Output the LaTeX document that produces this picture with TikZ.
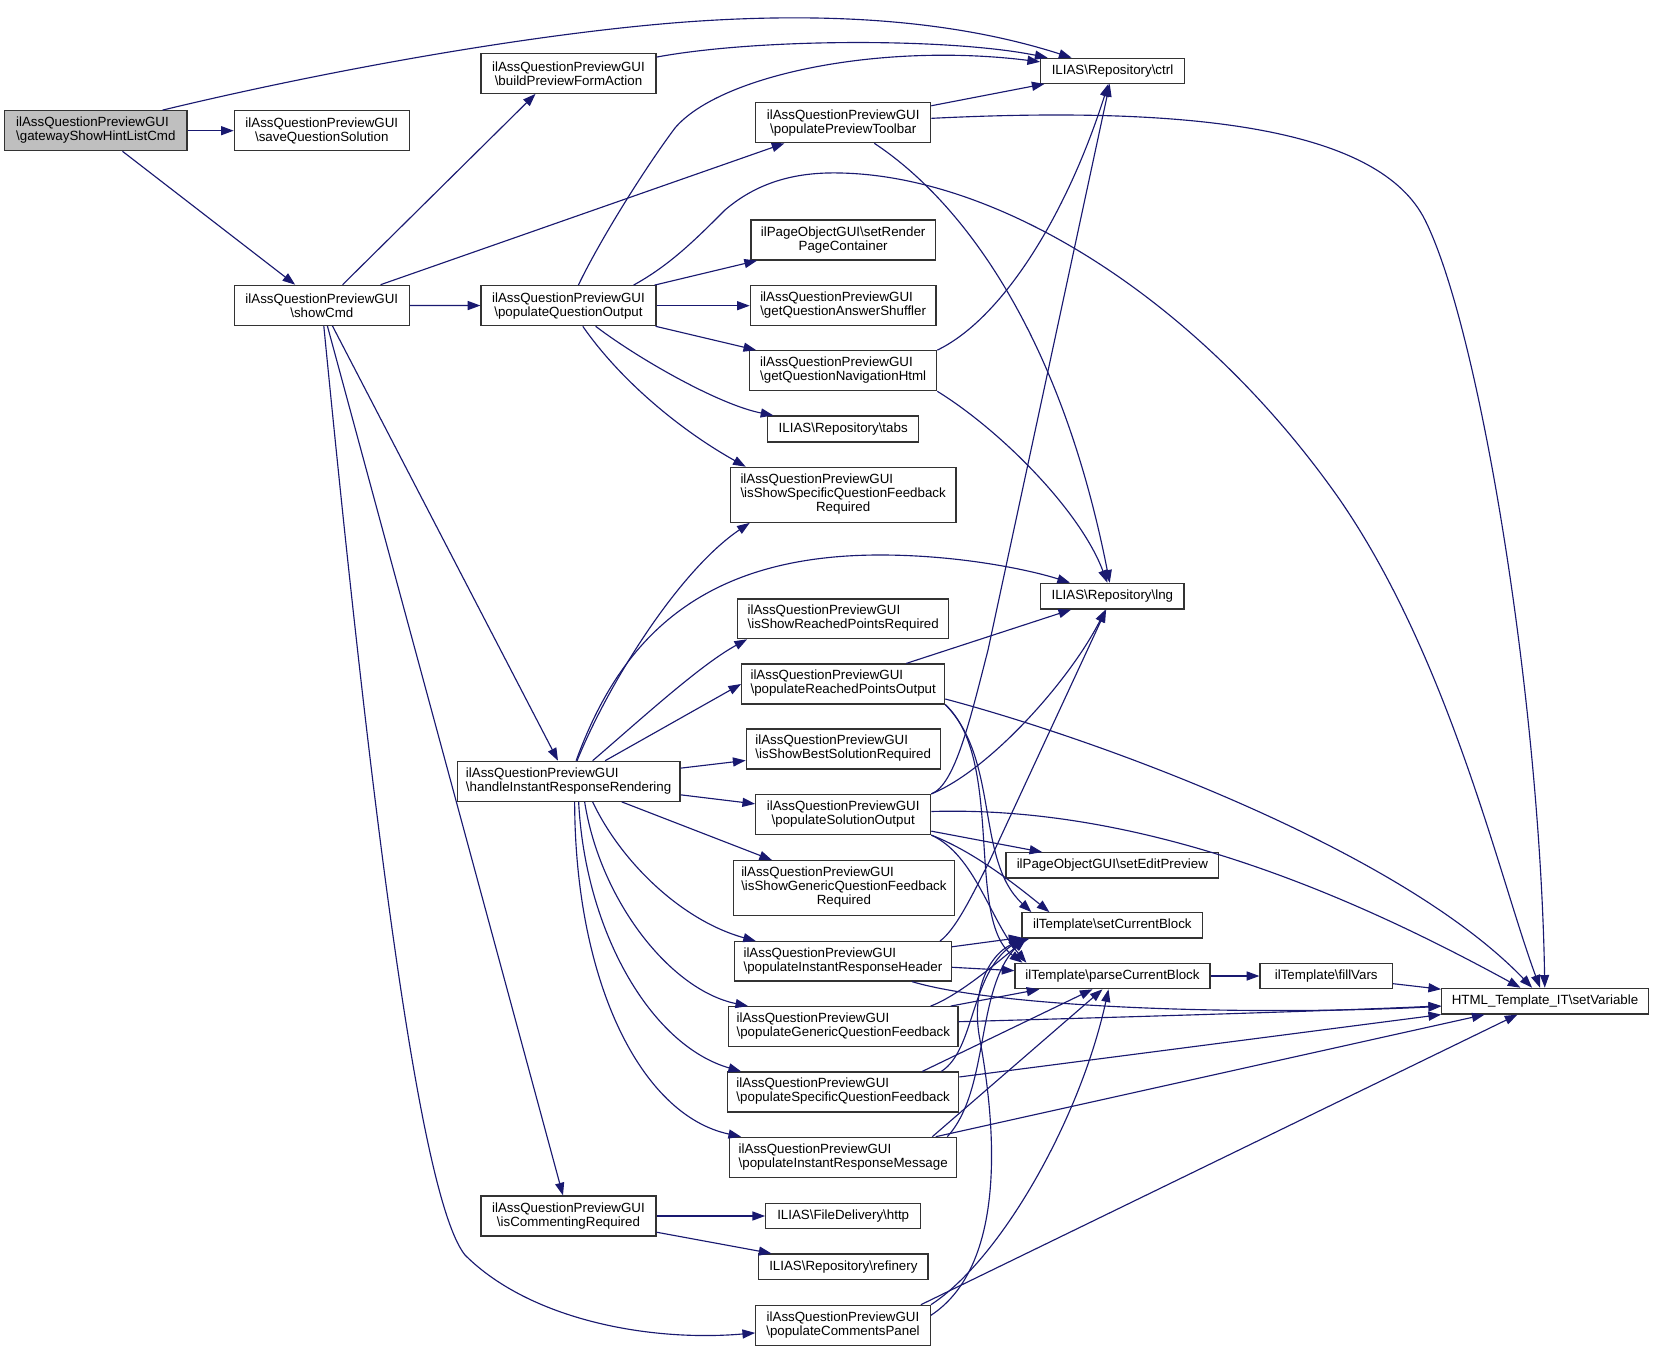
\documentclass[tikz,border=0pt]{standalone}
\usepackage{fontspec}
\setmainfont{Liberation Sans}
\usetikzlibrary{arrows.meta,calc}
\definecolor{edgec}{HTML}{191970}
\definecolor{nodeb}{HTML}{333333}
\definecolor{gwfill}{HTML}{BFBFBF}
\newcommand\BS{\textbackslash}
\newcommand\LL[1]{\begin{tabular}{@{}l@{}}#1\end{tabular}}
\newcommand\bx[7][]{\node[nb,#1,minimum width={(#5-#3)*0.75pt},minimum height={(#6-#4)*0.75pt}] (#2) at ({(#3+#5)/2},{(#4+#6)/2}) {#7};}
\tikzset{
  nb/.style={draw=nodeb, line width=0.9pt, fill=white, inner sep=0pt, align=center,
    font=\fontsize{10pt}{10.5pt}\selectfont},
  e/.style={draw=edgec, line width=0.85pt, -{Triangle[length=9.5pt,width=6.8pt]}}
}
\begin{document}
\begin{tikzpicture}[x=0.75pt,y=-0.75pt]
\fill[white] (0,0) rectangle (1653,1352);
\useasboundingbox (0,0) rectangle (1653,1352);
% nodes
\bx[fill=gwfill]{gw}{4.7}{110.7}{187}{150.7}{\LL{ilAssQuestionPreviewGUI\\\BS gatewayShowHintListCmd}}
\bx{sqs}{234.3}{110.7}{409.3}{150.7}{ilAssQuestionPreviewGUI\\\BS saveQuestionSolution}
\bx{show}{234.3}{285.3}{409.3}{325.3}{ilAssQuestionPreviewGUI\\\BS showCmd}
\bx{bpfa}{481}{53.3}{656}{93.3}{ilAssQuestionPreviewGUI\\\BS buildPreviewFormAction}
\bx{pqo}{481}{285.7}{656}{325.7}{ilAssQuestionPreviewGUI\\\BS populateQuestionOutput}
\bx{ctrl}{1040.7}{58.3}{1184.3}{83.3}{ILIAS\BS Repository\BS ctrl}
\bx{ppt}{755.7}{102.7}{930.7}{142.7}{ilAssQuestionPreviewGUI\\\BS populatePreviewToolbar}
\bx{srpc}{751}{220}{935.3}{260}{ilPageObjectGUI\BS setRender\\PageContainer}
\bx{gqas}{750.3}{285.7}{936}{325.7}{\LL{ilAssQuestionPreviewGUI\\\BS getQuestionAnswerShuffler}}
\bx{gqnh}{749.7}{350.7}{936.7}{390.7}{\LL{ilAssQuestionPreviewGUI\\\BS getQuestionNavigationHtml}}
\bx{tabs}{767.7}{416}{918.7}{442}{ILIAS\BS Repository\BS tabs}
\bx{isqfr}{730.3}{467.3}{956}{522.3}{\LL{ilAssQuestionPreviewGUI\\\BS isShowSpecificQuestionFeedback\\\multicolumn{1}{@{}c@{}}{Required}}}
\bx{lng}{1040.7}{583.3}{1184}{609}{ILIAS\BS Repository\BS lng}
\bx{isrpr}{737.7}{599}{948.7}{638.7}{\LL{ilAssQuestionPreviewGUI\\\BS isShowReachedPointsRequired}}
\bx{prpo}{741.7}{664}{944.7}{704}{\LL{ilAssQuestionPreviewGUI\\\BS populateReachedPointsOutput}}
\bx{isbsr}{746.2}{729}{940.2}{769}{\LL{ilAssQuestionPreviewGUI\\\BS isShowBestSolutionRequired}}
\bx{hirr}{457.3}{761.3}{680}{801.3}{\LL{ilAssQuestionPreviewGUI\\\BS handleInstantResponseRendering}}
\bx{pso}{755.7}{794.5}{930.7}{834.5}{ilAssQuestionPreviewGUI\\\BS populateSolutionOutput}
\bx{sep}{1006}{852.7}{1218.7}{878}{ilPageObjectGUI\BS setEditPreview}
\bx{igqfr}{733.5}{860.7}{954.3}{915.3}{\LL{ilAssQuestionPreviewGUI\\\BS isShowGenericQuestionFeedback\\\multicolumn{1}{@{}c@{}}{Required}}}
\bx{scb}{1022}{912.7}{1202.7}{938}{ilTemplate\BS setCurrentBlock}
\bx{pirh}{734.5}{941.7}{951.3}{981}{\LL{ilAssQuestionPreviewGUI\\\BS populateInstantResponseHeader}}
\bx{pcb}{1015}{963.3}{1210}{988.7}{ilTemplate\BS parseCurrentBlock}
\bx{fv}{1260}{963.5}{1392.5}{988.5}{ilTemplate\BS fillVars}
\bx{sv}{1441.7}{988.3}{1648.3}{1014}{HTML\_Template\_IT\BS setVariable}
\bx{pgqf}{728.7}{1006.7}{958}{1046.7}{\LL{ilAssQuestionPreviewGUI\\\BS populateGenericQuestionFeedback}}
\bx{psqf}{727.7}{1072}{958.7}{1112}{\LL{ilAssQuestionPreviewGUI\\\BS populateSpecificQuestionFeedback}}
\bx{pirm}{729.7}{1137.3}{956.7}{1177.3}{\LL{ilAssQuestionPreviewGUI\\\BS populateInstantResponseMessage}}
\bx{icr}{481}{1196}{656}{1236}{ilAssQuestionPreviewGUI\\\BS isCommentingRequired}
\bx{http}{765.7}{1203.3}{920.7}{1228.7}{ILIAS\BS FileDelivery\BS http}
\bx{ref}{758.7}{1254}{928}{1279.3}{ILIAS\BS Repository\BS refinery}
\bx{pcp}{755.7}{1305.3}{930.3}{1345.3}{ilAssQuestionPreviewGUI\\\BS populateCommentsPanel}
% edges
\draw[e] (gw) -- (sqs);
\draw[e] (gw) -- (show);
\draw[e] ($(gw.north east)+(-25,0)$) .. controls (350,65) and (560,30) .. (700,21) .. controls (840,12) and (960,22) .. (ctrl);
\draw[e] (show) -- ($(bpfa.south)+(-33,0)$);
\draw[e] (show) -- (ppt);
\draw[e] (show) -- (pqo);
\draw[e] (show) -- (hirr);
\draw[e] (show) -- (icr);
\draw[e] (show) .. controls (380,900) and (425,1205) .. (465,1255) .. controls (530,1320) and (650,1342) .. (pcp);
\draw[e] (bpfa) .. controls (760,38) and (950,38) .. (ctrl);
\draw[e] (ppt) -- (ctrl);
\draw[e] (ppt) .. controls (1200,105) and (1380,130) .. (1425,220) .. controls (1480,330) and (1540,700) .. (sv);
\draw[e] (ppt) .. controls (960,200) and (1060,330) .. (lng);
\draw[e] (pqo) .. controls (600,240) and (645,168) .. (675,128) .. controls (720,75) and (880,42) .. (ctrl);
\draw[e] ($(pqo.north east)+(-23,0)$) .. controls (670,265) and (695,240) .. (725,210) .. controls (760,180) and (800,172) .. (840,173) .. controls (1000,176) and (1200,300) .. (1340,500) .. controls (1450,660) and (1500,880) .. (sv);
\draw[e] (pqo) -- (srpc);
\draw[e] (pqo) -- (gqas);
\draw[e] (pqo) -- (gqnh);
\draw[e] (pqo) .. controls (640,360) and (720,405) .. (tabs);
\draw[e] (pqo) .. controls (620,380) and (680,430) .. ($(isqfr.north west)+(16,0)$);
\draw[e] (gqnh.north east) .. controls (1000,320) and (1065,220) .. (ctrl);
\draw[e] (gqnh.south east) .. controls (1000,430) and (1080,510) .. (lng);
\draw[e] (hirr) .. controls (610,680) and (680,570) .. ($(isqfr.south west)+(20,0)$);
\draw[e] (hirr) .. controls (620,640) and (700,555) .. (880,555) .. controls (960,555) and (1030,570) .. (lng);
\draw[e] (hirr) .. controls (640,720) and (700,665) .. ($(isrpr.south west)+(10,0)$);
\draw[e] (hirr) -- (prpo.west);
\draw[e] (hirr) -- (isbsr);
\draw[e] (hirr) -- (pso);
\draw[e] (hirr) -- (igqfr);
\draw[e] ($(hirr.south)+(24,0)$) .. controls (620,860) and (680,920) .. ($(pirh.north west)+(22,0)$);
\draw[e] ($(hirr.south)+(16,0)$) .. controls (600,900) and (670,990) .. ($(pgqf.north west)+(20,0)$);
\draw[e] ($(hirr.south)+(10,0)$) .. controls (585,930) and (650,1045) .. ($(psqf.north west)+(14,0)$);
\draw[e] ($(hirr.south)+(6,0)$) .. controls (575,980) and (640,1115) .. ($(pirm.north west)+(12,0)$);
\draw[e] (prpo) -- (lng);
\draw[e] ($(prpo.east)+(0,15)$) .. controls (1100,740) and (1400,850) .. (sv);
\draw[e] (prpo.south east) .. controls (1000,760) and (975,860) .. ($(scb.north west)+(10,0)$);
\draw[e] (prpo.south east) .. controls (1005,760) and (965,920) .. ($(pcb.north west)+(8,0)$);
\draw[e] (pso.north east) .. controls (955,785) and (970,720) .. (988,650) -- (ctrl);
\draw[e] (pso.north east) .. controls (990,770) and (1070,680) .. (lng);
\draw[e] ($(pso.east)+(0,-3)$) .. controls (1150,805) and (1360,900) .. (sv);
\draw[e] (pso) -- (sep);
\draw[e] (pso.south east) .. controls (970,850) and (1010,880) .. ($(scb.north west)+(28,0)$);
\draw[e] (pso.south east) .. controls (975,855) and (990,920) .. ($(pcb.north west)+(12,0)$);
\draw[e] ($(pirh.north east)+(-12,0)$) .. controls (955,930) and (970,900) .. (990,860) -- (lng);
\draw[e] (pirh) -- (scb);
\draw[e] (pirh) -- (pcb);
\draw[e] ($(pirh.south east)+(-40,0)$) .. controls (1000,1008) and (1250,1016) .. (sv);
\draw[e] ($(pgqf.north east)+(-28,0)$) .. controls (960,995) and (1000,960) .. ($(scb.south west)+(5,0)$);
\draw[e] ($(pgqf.north east)+(-8,0)$) -- ($(pcb.south west)+(25,0)$);
\draw[e] ($(pgqf.east)+(0,-5)$) .. controls (1200,1015) and (1350,1010) .. (sv);
\draw[e] ($(psqf.north east)+(-18,0)$) .. controls (975,1050) and (970,975) .. (scb.south west);
\draw[e] ($(psqf.north east)+(-37,0)$) -- ($(pcb.south)+(-20,0)$);
\draw[e] (psqf) -- (sv);
\draw[e] ($(pirm.north east)+(-10,0)$) .. controls (990,1090) and (975,990) .. ($(scb.south west)+(3,0)$);
\draw[e] ($(pirm.north east)+(-25,0)$) -- ($(pcb.south)+(-10,0)$);
\draw[e] (pirm) -- (sv);
\draw[e] ($(pcp.east)+(0,-10)$) .. controls (1000,1270) and (1000,1150) .. (980,1040) .. controls (970,990) and (990,950) .. ($(scb.south west)+(8,0)$);
\draw[e] (pcp.north east) .. controls (1000,1260) and (1080,1120) .. ($(pcb.south)+(-4,0)$);
\draw[e] ($(pcp.north east)+(-10,0)$) -- (sv);
\draw[e] (pcb) -- (fv);
\draw[e] (fv) -- (sv);
\draw[e] (icr) -- (http);
\draw[e] (icr) -- (ref);
\end{tikzpicture}
\end{document}
